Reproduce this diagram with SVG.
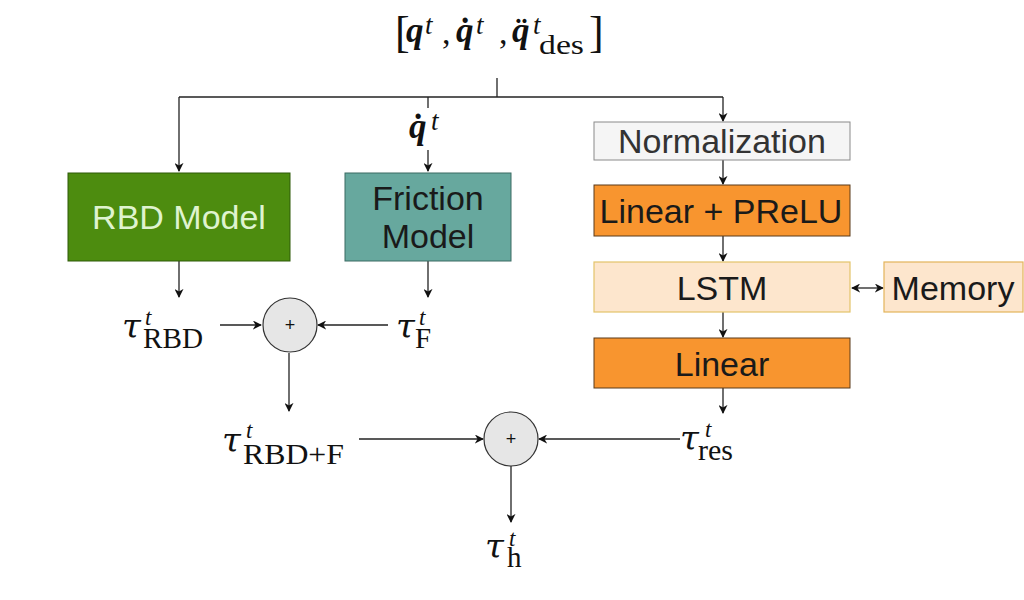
<svg xmlns="http://www.w3.org/2000/svg" width="1024" height="600" viewBox="0 0 1024 600">
<style>
.m{font-family:"Liberation Serif","DejaVu Serif",serif;fill:#111}
.qb{font-style:italic;font-weight:bold;font-size:35px}
.sup{font-style:italic;font-size:23px}
.supb{font-style:italic;font-size:27px}
.tau{font-family:"DejaVu Serif","Liberation Serif",serif;font-style:italic;font-size:34px}
.sub{font-size:29px}
.lbl{font-family:"Liberation Sans",Arial,sans-serif;font-size:34px;text-anchor:middle}
.c{stroke:#222;stroke-width:1.3;fill:none}
</style>
<defs>
<marker id="ah" viewBox="0 0 10 10" refX="9" refY="5" markerWidth="9" markerHeight="9" markerUnits="userSpaceOnUse" orient="auto-start-reverse">
<path d="M0,0 L10,5 L0,10 L3,5 Z" fill="#111"/>
</marker>
</defs>
<rect width="1024" height="600" fill="#fff"/>

<g id="input">
<text class="m" x="395" y="47" font-size="44">[</text>
<text class="m qb" x="406" y="42">q</text>
<text class="m supb" x="425" y="34">t</text>
<text class="m" x="442" y="44" font-size="34">,</text>
<text class="m qb" x="456" y="42">q̇</text>
<text class="m supb" x="476" y="34">t</text>
<text class="m" x="499" y="44" font-size="34">,</text>
<text class="m qb" x="512" y="42">q̈</text>
<text class="m supb" x="533" y="34">t</text>
<text class="m" x="539" y="54" font-size="27" textLength="45" lengthAdjust="spacingAndGlyphs">des</text>
<text class="m" x="589" y="47" font-size="44">]</text>
</g>

<g id="connectors">
<path class="c" d="M497,78 V97"/>
<path class="c" d="M179,97 H723"/>
<path class="c" d="M179,97 V171" marker-end="url(#ah)"/>
<path class="c" d="M428,97 V108"/>
<path class="c" d="M428,150 V171" marker-end="url(#ah)"/>
<path class="c" d="M723,97 V121" marker-end="url(#ah)"/>
<path class="c" d="M723,160 V184" marker-end="url(#ah)"/>
<path class="c" d="M723,236 V261" marker-end="url(#ah)"/>
<path class="c" d="M723,312 V337" marker-end="url(#ah)"/>
<path class="c" d="M723,388 V413" marker-end="url(#ah)"/>
<path class="c" d="M852,288 H883" marker-start="url(#ah)" marker-end="url(#ah)"/>
<path class="c" d="M179,261 V297" marker-end="url(#ah)"/>
<path class="c" d="M428,261 V297" marker-end="url(#ah)"/>
<path class="c" d="M220,325 H261" marker-end="url(#ah)"/>
<path class="c" d="M388,325 H318" marker-end="url(#ah)"/>
<path class="c" d="M289,353 V411" marker-end="url(#ah)"/>
<path class="c" d="M359,439 H483" marker-end="url(#ah)"/>
<path class="c" d="M680,439 H539" marker-end="url(#ah)"/>
<path class="c" d="M511,466 V522" marker-end="url(#ah)"/>
</g>

<g id="qdot-label">
<text class="m qb" x="409" y="138">q̇</text>
<text class="m supb" x="431" y="130">t</text>
</g>

<g id="rbd">
<rect x="68" y="173" width="222" height="88" fill="#4d8c0f" stroke="#2f5a08" stroke-width="1"/>
<text class="lbl" x="179" y="229" fill="#dff3cf">RBD Model</text>
</g>

<g id="friction">
<rect x="345" y="173" width="166" height="88" fill="#67a89e" stroke="#3a6b63" stroke-width="1"/>
<text class="lbl" x="428" y="210" fill="#1a1a1a">Friction</text>
<text class="lbl" x="428" y="248" fill="#1a1a1a">Model</text>
</g>

<g id="normalization">
<rect x="594" y="122" width="256" height="38" fill="#f5f5f5" stroke="#8a8a8a" stroke-width="1"/>
<text class="lbl" x="722" y="153" fill="#333">Normalization</text>
</g>

<g id="linear-prelu">
<rect x="594" y="185" width="256" height="51" fill="#f8952f" stroke="#5a3a1a" stroke-width="1"/>
<text class="lbl" x="721" y="223" fill="#1a1a1a">Linear + PReLU</text>
</g>

<g id="lstm">
<rect x="594" y="262" width="256" height="50" fill="#fde6cd" stroke="#e3c46a" stroke-width="1.2"/>
<text class="lbl" x="722" y="300" fill="#1a1a1a">LSTM</text>
</g>

<g id="memory">
<rect x="884" y="262" width="139" height="50" fill="#fde6cd" stroke="#e3b45a" stroke-width="1.2"/>
<text class="lbl" x="953" y="300" fill="#1a1a1a">Memory</text>
</g>

<g id="linear">
<rect x="594" y="338" width="256" height="50" fill="#f8952f" stroke="#5a3a1a" stroke-width="1"/>
<text class="lbl" x="722" y="376" fill="#1a1a1a">Linear</text>
</g>

<g id="sum1">
<circle cx="290" cy="325" r="27" fill="#e6e6e6" stroke="#333" stroke-width="1.2"/>
<text x="290" y="331" font-family="Liberation Sans,Arial,sans-serif" font-size="18" text-anchor="middle" fill="#111">+</text>
</g>

<g id="sum2">
<circle cx="511" cy="439" r="27" fill="#e6e6e6" stroke="#333" stroke-width="1.2"/>
<text x="511" y="445" font-family="Liberation Sans,Arial,sans-serif" font-size="18" text-anchor="middle" fill="#111">+</text>
</g>

<g id="tau-rbd">
<text class="tau" x="122" y="338" fill="#111">τ</text>
<text class="m sup" x="145" y="325">t</text>
<text class="m sub" x="143" y="348" textLength="60" lengthAdjust="spacingAndGlyphs">RBD</text>
</g>

<g id="tau-f">
<text class="tau" x="396" y="338" fill="#111">τ</text>
<text class="m sup" x="419" y="325">t</text>
<text class="m sub" x="415" y="348">F</text>
</g>

<g id="tau-rbdf">
<text class="tau" x="222" y="452" fill="#111">τ</text>
<text class="m sup" x="246" y="438">t</text>
<text class="m sub" x="243" y="464" textLength="101" lengthAdjust="spacingAndGlyphs">RBD+F</text>
</g>

<g id="tau-res">
<text class="tau" x="680" y="450" fill="#111">τ</text>
<text class="m sup" x="705" y="437">t</text>
<text class="m sub" x="698" y="460" textLength="35" lengthAdjust="spacingAndGlyphs">res</text>
</g>

<g id="tau-h">
<text class="tau" x="485" y="558" fill="#111">τ</text>
<text class="m sup" x="509" y="546">t</text>
<text class="m sub" x="507" y="567">h</text>
</g>
</svg>
